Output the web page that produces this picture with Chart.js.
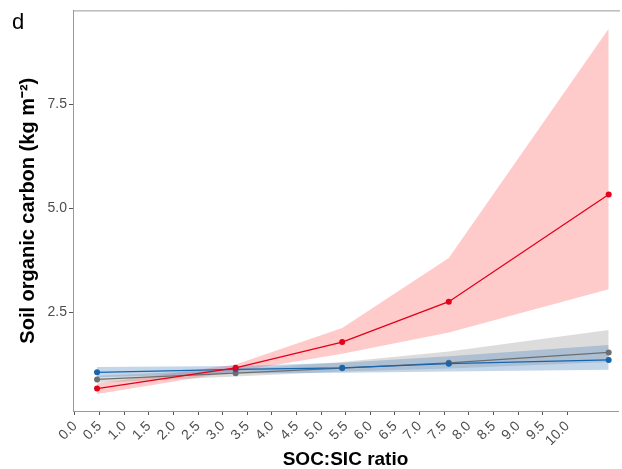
<!DOCTYPE html>
<html>
<head>
<meta charset="utf-8">
<script src="https://cdn.jsdelivr.net/npm/chart.js@4"></script>
<style>
  body { margin: 0; background: #fff; }
  #wrap { width: 622px; height: 469px; }
</style>
</head>
<body>
<div id="wrap"><canvas id="soc-chart"></canvas></div>
<script>
const ratios = [0.4, 3, 5, 7, 10];

const redMean = [0.66, 1.16, 1.78, 2.75, 5.33];
const redLow = [0.53, 1.07, 1.50, 2.01, 3.05];
const redHigh = [0.78, 1.24, 2.12, 3.80, 9.32];

const grayMean = [0.88, 1.03, 1.15, 1.28, 1.53];
const grayLow = [0.80, 0.95, 1.07, 1.14, 1.30];
const grayHigh = [0.97, 1.12, 1.30, 1.55, 2.07];

const blueMean = [1.05, 1.12, 1.16, 1.26, 1.35];
const blueLow = [0.93, 1.02, 1.04, 1.07, 1.11];
const blueHigh = [1.18, 1.20, 1.28, 1.44, 1.71];

const xTickLabels = [0, 0.5, 1, 1.5, 2, 2.5, 3, 3.5, 4, 4.5, 5, 5.5, 6, 6.5, 7, 7.5, 8, 8.5, 9, 9.5, 10];
const yTickLabels = [2.5, 5, 7.5];

const pts = (ys) => ratios.map((x, i) => ({ x: x, y: ys[i] }));

function band(low, high, color, order) {
  return [
    { data: pts(low), borderWidth: 0, pointRadius: 0, fill: false, order: order },
    { data: pts(high), borderWidth: 0, pointRadius: 0, fill: '-1', backgroundColor: color, order: order }
  ];
}

function line(ys, color, order) {
  return {
    data: pts(ys), borderColor: color, backgroundColor: color, borderWidth: 1.3,
    pointRadius: 3, pointBorderWidth: 0, fill: false, order: order
  };
}

const frame = {
  id: 'frame',
  afterDraw(chart) {
    const { ctx, chartArea } = chart;
    ctx.save();
    ctx.strokeStyle = '#999';
    ctx.lineWidth = 1;
    ctx.beginPath();
    ctx.moveTo(chartArea.left, chartArea.top + 0.5);
    ctx.lineTo(chartArea.right + 2, chartArea.top + 0.5);
    ctx.stroke();
    ctx.fillStyle = '#000';
    ctx.font = '22px "Liberation Sans", Arial, sans-serif';
    ctx.fillText('d', 12, 29);
    ctx.restore();
  }
};

const font = '"Liberation Sans", Arial, sans-serif';

new Chart(document.getElementById('soc-chart'), {
  type: 'line',
  data: {
    datasets: [
      ...band(redLow, redHigh, 'rgba(255,150,150,0.5)', 10),
      ...band(grayLow, grayHigh, 'rgba(160,160,160,0.37)', 9),
      ...band(blueLow, blueHigh, 'rgba(70,130,190,0.32)', 8),
      line(grayMean, '#6e6e6e', 3),
      line(blueMean, '#1765ad', 2),
      line(redMean, '#e2001a', 1)
    ]
  },
  options: {
    responsive: true,
    maintainAspectRatio: false,
    animation: false,
    layout: { padding: { top: 10, right: 1, left: 0, bottom: 0 } },
    plugins: { legend: { display: false }, tooltip: { enabled: false } },
    scales: {
      x: {
        type: 'linear',
        display: false,
        min: -0.051,
        max: 10.175
      },
      xLabels: {
        type: 'linear',
        position: 'bottom',
        min: -0.04,
        max: 11.03,
        afterBuildTicks: (s) => { s.ticks = xTickLabels.map(v => ({ value: v })); },
        afterFit: (s) => { s.height = 58; },
        grid: { drawOnChartArea: false, drawTicks: true, tickLength: 4, color: '#555' },
        border: { display: true, color: '#999', width: 1 },
        ticks: {
          autoSkip: false,
          minRotation: 45, maxRotation: 45, padding: 3, color: '#4d4d4d',
          font: { family: font, size: 14 },
          callback: (v) => Number(v).toFixed(1)
        },
        title: {
          display: true, text: 'SOC:SIC ratio', color: '#000',
          font: { family: font, size: 19, weight: 'bold', lineHeight: 1 },
          padding: { top: 0, bottom: 0 }
        }
      },
      y: {
        min: 0.12,
        max: 9.76,
        afterBuildTicks: (s) => { s.ticks = yTickLabels.map(v => ({ value: v })); },
        afterFit: (s) => { s.width = 73; },
        grid: { drawOnChartArea: false, drawTicks: true, tickLength: 4, color: '#555' },
        border: { display: true, color: '#999', width: 1 },
        ticks: {
          padding: 2, color: '#4d4d4d',
          font: { family: font, size: 14 },
          callback: (v) => Number(v).toFixed(1)
        },
        title: {
          display: true, text: 'Soil organic carbon (kg m\u207B\u00B2)', color: '#000',
          font: { family: font, size: 20, weight: 'bold', lineHeight: 1 },
          padding: { top: 18, bottom: 0 }
        }
      }
    }
  },
  plugins: [frame]
});
</script>
</body>
</html>
